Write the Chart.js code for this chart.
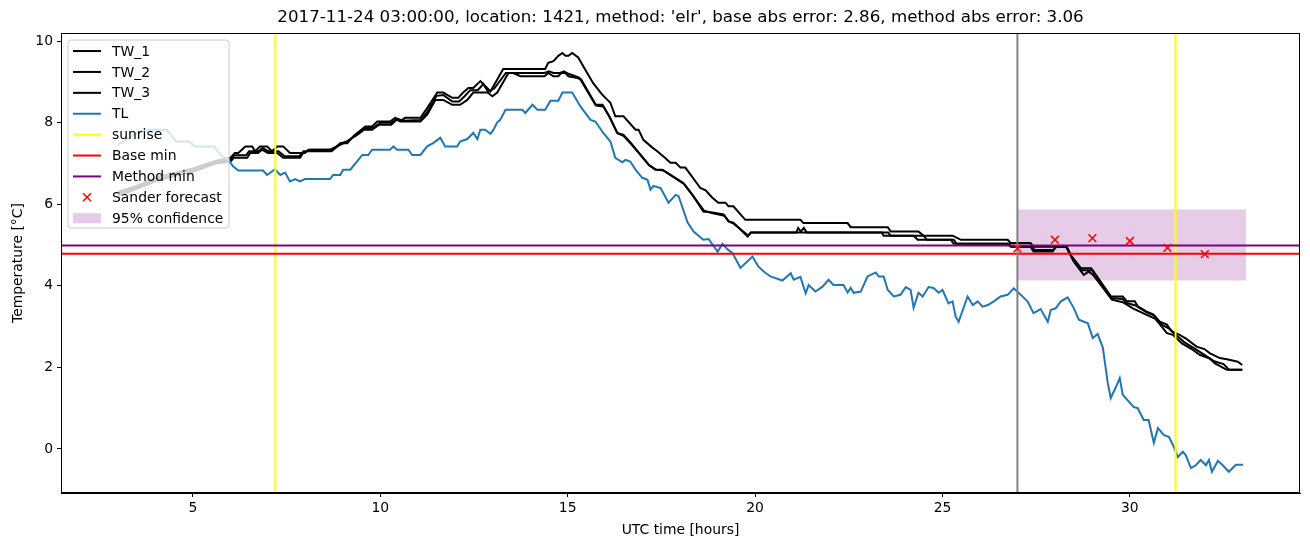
<!DOCTYPE html>
<html>
<head>
<meta charset="utf-8">
<script src="https://cdn.jsdelivr.net/npm/chart.js@4.4.1/dist/chart.umd.min.js"></script>
<style>
  html, body { margin: 0; padding: 0; background: #fff; }
  canvas { display: block; }
</style>
</head>
<body>
<canvas id="chart" width="1310" height="547"></canvas>
<script>
// axis ranges (hours / degC)
const X_MIN = 1.48, X_MAX = 34.54;
const Y_MIN = -1.08, Y_MAX = 10.2;

// [hour, temperature] pairs
const tw1 = [[3.0,6.3],[3.5,6.45],[4.1,6.68],[5.0,6.88],[5.6,7.06],[6.0,7.14],[6.12,7.26],[6.21,7.26],[6.4,7.42],[6.58,7.42],[6.66,7.3],[6.79,7.42],[6.98,7.42],[7.11,7.3],[7.25,7.42],[7.41,7.42],[7.59,7.26],[7.99,7.26],[8.08,7.34],[8.74,7.34],[8.93,7.5],[9.12,7.5],[9.28,7.67],[9.6,7.91],[9.78,7.91],[9.92,8.03],[10.26,8.03],[10.4,8.12],[10.53,8.03],[10.66,8.12],[11.07,8.12],[11.25,8.36],[11.52,8.74],[11.68,8.74],[11.92,8.61],[12.08,8.61],[12.21,8.74],[12.35,8.85],[12.48,8.85],[12.67,9.02],[12.8,8.9],[12.94,8.77],[13.12,9.06],[13.28,9.32],[13.47,9.32],[14.4,9.32],[14.48,9.47],[14.62,9.51],[14.75,9.64],[14.86,9.71],[14.94,9.64],[15.02,9.64],[15.12,9.71],[15.28,9.6],[15.52,9.22],[15.68,8.97],[15.92,8.69],[16.14,8.49],[16.27,8.16],[16.49,8.16],[16.81,7.83],[16.89,7.83],[17.02,7.58],[17.26,7.39],[17.39,7.3],[17.61,7.13],[17.74,7.02],[17.88,7.02],[18.01,6.9],[18.14,6.9],[18.54,6.4],[18.68,6.34],[18.86,6.16],[19.02,6.04],[19.21,6.04],[19.29,5.95],[19.42,5.95],[19.74,5.62],[21.21,5.62],[21.29,5.54],[22.47,5.54],[22.55,5.44],[23.54,5.44],[23.62,5.33],[24.36,5.33],[24.5,5.23],[25.27,5.23],[25.49,5.13],[26.74,5.13],[26.82,5.05],[27.35,5.05],[27.43,4.96],[28.3,4.96],[28.45,4.72],[28.7,4.43],[28.97,4.43],[29.5,3.74],[29.81,3.74],[29.92,3.62],[30.13,3.62],[30.21,3.5],[30.45,3.37],[30.62,3.3],[30.8,3.12],[30.99,3.05],[31.12,2.88],[31.33,2.8],[31.51,2.7],[31.78,2.51],[31.99,2.45],[32.13,2.35],[32.4,2.23],[32.59,2.2],[32.88,2.14],[33.0,2.06]];

const tw2 = [[3.0,6.2],[3.5,6.38],[4.1,6.6],[5.0,6.8],[5.6,7.0],[6.0,7.05],[6.09,7.14],[6.45,7.14],[6.53,7.26],[6.74,7.26],[6.84,7.34],[7.0,7.26],[7.25,7.26],[7.41,7.14],[7.86,7.14],[7.94,7.26],[8.13,7.34],[8.66,7.34],[8.93,7.46],[9.12,7.55],[9.39,7.71],[9.57,7.83],[9.78,7.83],[9.97,7.95],[10.29,7.95],[10.43,8.07],[10.58,8.03],[11.07,8.03],[11.25,8.2],[11.47,8.56],[11.68,8.56],[11.92,8.44],[12.13,8.44],[12.32,8.56],[12.48,8.74],[12.86,8.74],[12.99,8.65],[13.12,8.74],[13.42,9.22],[13.55,9.22],[13.74,9.14],[14.38,9.14],[14.48,9.22],[14.62,9.14],[14.75,9.14],[14.83,9.22],[14.94,9.22],[15.02,9.14],[15.26,9.1],[15.34,9.06],[15.74,8.44],[15.93,8.44],[16.11,8.16],[16.32,7.75],[16.49,7.7],[16.69,7.5],[17.16,6.97],[17.34,6.85],[17.53,6.85],[17.88,6.64],[18.09,6.52],[18.33,6.23],[18.62,5.82],[18.86,5.8],[19.16,5.75],[19.29,5.58],[19.42,5.55],[19.8,5.21],[19.88,5.31],[23.38,5.31],[23.43,5.23],[24.23,5.23],[24.34,5.13],[25.22,5.13],[25.3,5.03],[26.74,5.03],[26.82,4.96],[27.35,4.96],[27.43,4.84],[27.94,4.84],[28.02,4.96],[28.32,4.96],[28.5,4.6],[28.77,4.27],[28.9,4.35],[29.02,4.27],[29.52,3.66],[29.81,3.6],[30.08,3.45],[30.45,3.29],[30.67,3.2],[30.99,2.84],[31.15,2.8],[31.39,2.59],[31.65,2.45],[31.86,2.31],[32.13,2.22],[32.27,2.1],[32.59,1.94],[33.0,1.94]];

const tw3 = [[3.0,6.25],[3.5,6.41],[4.1,6.63],[5.0,6.83],[5.6,7.02],[6.0,7.1],[6.1,7.2],[6.42,7.2],[6.5,7.3],[6.75,7.3],[6.86,7.38],[7.02,7.3],[7.28,7.3],[7.45,7.18],[7.84,7.18],[7.95,7.3],[8.1,7.3],[8.7,7.3],[8.95,7.5],[9.15,7.55],[9.4,7.75],[9.6,7.87],[9.8,7.87],[10.0,8.0],[10.3,8.0],[10.45,8.1],[10.6,8.05],[11.07,8.07],[11.25,8.26],[11.5,8.66],[11.68,8.68],[11.92,8.52],[12.1,8.52],[12.25,8.65],[12.4,8.8],[12.6,8.8],[12.75,8.95],[12.88,8.75],[13.05,8.85],[13.35,9.22],[14.38,9.22],[14.5,9.26],[14.62,9.22],[14.8,9.22],[14.9,9.26],[15.02,9.2],[15.28,9.12],[15.36,9.06],[15.76,8.42],[15.95,8.4],[16.13,8.12],[16.33,7.74],[16.5,7.67],[16.7,7.47],[17.18,6.95],[17.36,6.85],[17.55,6.83],[17.9,6.62],[18.1,6.5],[18.35,6.2],[18.64,5.84],[18.88,5.78],[19.18,5.72],[19.3,5.58],[19.44,5.52],[19.82,5.23],[19.9,5.31],[21.1,5.31],[21.15,5.42],[21.22,5.33],[21.3,5.42],[21.38,5.31],[23.55,5.31],[23.62,5.23],[24.5,5.23],[24.58,5.13],[25.3,5.13],[25.38,5.03],[26.78,5.03],[26.86,4.96],[27.38,4.96],[27.46,4.88],[27.96,4.88],[28.04,4.96],[28.3,4.96],[28.47,4.66],[28.72,4.38],[29.0,4.38],[29.5,3.7],[29.8,3.68],[29.92,3.58],[30.15,3.52],[30.45,3.35],[30.65,3.27],[30.85,3.05],[31.05,2.95],[31.2,2.82],[31.45,2.62],[31.75,2.45],[32.0,2.3],[32.25,2.15],[32.5,2.08],[32.65,1.94],[33.0,1.94]];

const tl = [[3.0,7.46],[3.5,7.75],[3.8,7.83],[4.3,7.83],[4.45,7.66],[4.55,7.54],[4.9,7.54],[5.05,7.42],[5.57,7.42],[5.75,7.2],[5.95,7.09],[6.07,6.93],[6.21,6.83],[6.87,6.83],[6.98,6.72],[7.19,6.86],[7.33,6.72],[7.46,6.78],[7.59,6.56],[7.73,6.62],[7.86,6.56],[7.99,6.62],[8.66,6.62],[8.74,6.72],[8.93,6.72],[9.01,6.85],[9.2,6.85],[9.52,7.21],[9.68,7.21],[9.78,7.34],[10.26,7.34],[10.35,7.42],[10.45,7.34],[10.75,7.34],[10.85,7.21],[11.07,7.21],[11.25,7.42],[11.41,7.5],[11.6,7.63],[11.73,7.42],[12.05,7.42],[12.13,7.54],[12.32,7.6],[12.48,7.75],[12.59,7.6],[12.67,7.83],[12.8,7.83],[12.94,7.73],[13.02,7.83],[13.12,8.01],[13.2,8.07],[13.34,8.32],[13.79,8.32],[13.87,8.24],[14.06,8.44],[14.19,8.32],[14.4,8.32],[14.54,8.54],[14.75,8.54],[14.86,8.74],[15.12,8.74],[15.34,8.4],[15.61,8.07],[15.74,8.03],[15.95,7.75],[16.14,7.54],[16.27,7.14],[16.46,7.03],[16.54,7.09],[16.67,7.05],[16.81,6.85],[16.99,6.65],[17.13,6.6],[17.21,6.36],[17.29,6.45],[17.48,6.4],[17.69,6.04],[17.88,6.23],[17.96,6.2],[18.2,5.55],[18.36,5.33],[18.62,5.13],[18.76,5.15],[19.0,4.84],[19.13,5.03],[19.26,4.9],[19.4,4.8],[19.61,4.44],[19.93,4.72],[20.09,4.47],[20.23,4.35],[20.41,4.23],[20.73,4.13],[20.95,4.31],[21.03,4.15],[21.21,4.22],[21.35,3.82],[21.43,4.02],[21.61,3.86],[21.8,3.98],[21.96,4.15],[22.09,4.02],[22.36,4.02],[22.47,3.84],[22.55,3.95],[22.63,3.83],[22.82,3.86],[23.0,4.23],[23.22,4.33],[23.3,4.23],[23.43,4.23],[23.54,3.9],[23.7,3.74],[23.88,3.78],[24.02,3.97],[24.15,3.9],[24.23,3.46],[24.36,3.83],[24.47,3.74],[24.63,3.97],[24.76,3.95],[24.9,3.83],[25.0,3.9],[25.16,3.57],[25.27,3.62],[25.35,3.25],[25.43,3.12],[25.67,3.74],[25.81,3.53],[25.94,3.62],[26.07,3.49],[26.21,3.53],[26.37,3.62],[26.55,3.74],[26.74,3.78],[26.9,3.94],[27.03,3.83],[27.27,3.62],[27.43,3.33],[27.62,3.43],[27.81,3.12],[27.89,3.41],[28.02,3.45],[28.16,3.62],[28.34,3.72],[28.5,3.46],[28.64,3.17],[28.88,3.08],[29.01,2.72],[29.14,2.82],[29.28,2.48],[29.41,1.62],[29.49,1.25],[29.62,1.5],[29.73,1.74],[29.81,1.33],[30.1,1.03],[30.21,1.0],[30.37,0.71],[30.5,0.71],[30.64,0.15],[30.75,0.51],[30.91,0.34],[31.04,0.3],[31.17,0.06],[31.28,-0.2],[31.41,-0.07],[31.49,-0.15],[31.63,-0.47],[31.76,-0.4],[31.89,-0.27],[32.03,-0.4],[32.11,-0.27],[32.19,-0.56],[32.35,-0.29],[32.48,-0.4],[32.64,-0.56],[32.83,-0.39],[33.02,-0.39]];

const sunriseHours = [7.2, 31.22];
const forecastTime = 27.0;
const baseMin = 4.79;
const methodMin = 4.99;
const forecastHours = [27, 28, 29, 30, 31, 32];
const forecastTemp = [4.92, 5.13, 5.17, 5.10, 4.93, 4.78];
const bandHours = [27.0, 33.1];
const bandLower = [4.13, 4.13];
const bandUpper = [5.87, 5.87];

const FONT = '"DejaVu Sans", sans-serif';
const pts = arr => arr.map(([x, y]) => ({ x, y }));
const vline = h => [{ x: h, y: Y_MIN }, { x: h, y: Y_MAX }];
const hline = v => [{ x: X_MIN, y: v }, { x: X_MAX, y: v }];

const lineDs = (label, data, color, order) => ({
  label, data, borderColor: color, borderWidth: 2, pointRadius: 0,
  fill: false, tension: 0, order
});

const datasets = [
  lineDs('TW_1', pts(tw1), '#000000', 10),
  lineDs('TW_2', pts(tw2), '#000000', 9),
  lineDs('TW_3', pts(tw3), '#000000', 8),
  lineDs('TL', pts(tl), '#1f77b4', 7),
  ...sunriseHours.map(h => lineDs('sunrise', vline(h), '#ffff00', 6)),
  lineDs('Base min', hline(baseMin), '#ff0000', 5),
  lineDs('Method min', hline(methodMin), '#800080', 4),
  lineDs('', vline(forecastTime), '#808080', 3),
  {
    label: 'Sander forecast',
    data: forecastHours.map((h, i) => ({ x: h, y: forecastTemp[i] })),
    showLine: false, pointStyle: 'crossRot', pointRadius: 5.5,
    borderColor: '#ff0000', backgroundColor: '#ff0000', borderWidth: 1.5, order: 1
  },
  {
    label: '95% confidence',
    data: bandHours.map((h, i) => ({ x: h, y: bandUpper[i] })),
    borderColor: 'transparent', borderWidth: 0, pointRadius: 0,
    fill: '+1', backgroundColor: 'rgba(128,0,128,0.2)', order: 20
  },
  {
    label: '',
    data: bandHours.map((h, i) => ({ x: h, y: bandLower[i] })),
    borderColor: 'transparent', borderWidth: 0, pointRadius: 0,
    fill: false, order: 21
  }
];

// legend drawn inside the axes, matplotlib style
const legendItems = [
  { label: 'TW_1', kind: 'line', color: '#000000' },
  { label: 'TW_2', kind: 'line', color: '#000000' },
  { label: 'TW_3', kind: 'line', color: '#000000' },
  { label: 'TL', kind: 'line', color: '#1f77b4' },
  { label: 'sunrise', kind: 'line', color: '#ffff00' },
  { label: 'Base min', kind: 'line', color: '#ff0000' },
  { label: 'Method min', kind: 'line', color: '#800080' },
  { label: 'Sander forecast', kind: 'x', color: '#ff0000' },
  { label: '95% confidence', kind: 'patch', color: 'rgba(128,0,128,0.2)' }
];

const framePlugin = {
  id: 'frame',
  afterDatasetsDraw(chart) {
    const { ctx, chartArea: a } = chart;
    ctx.save();
    ctx.strokeStyle = '#000';
    ctx.lineWidth = 1;
    ctx.strokeRect(Math.round(a.left) + 0.5, Math.round(a.top) + 0.5,
      Math.round(a.right - a.left) - 1, Math.round(a.bottom - a.top) - 1);
    ctx.restore();
  },
  afterDraw(chart) {
    const { ctx, chartArea: a } = chart;
    const x0 = a.left + 7, y0 = a.top + 7, w = 161, h = 188, r = 3;
    ctx.save();
    ctx.beginPath();
    ctx.moveTo(x0 + r, y0);
    ctx.arcTo(x0 + w, y0, x0 + w, y0 + h, r);
    ctx.arcTo(x0 + w, y0 + h, x0, y0 + h, r);
    ctx.arcTo(x0, y0 + h, x0, y0, r);
    ctx.arcTo(x0, y0, x0 + w, y0, r);
    ctx.closePath();
    ctx.fillStyle = 'rgba(255,255,255,0.8)';
    ctx.fill();
    ctx.strokeStyle = '#cccccc';
    ctx.lineWidth = 1;
    ctx.stroke();

    ctx.font = '13.9px ' + FONT;
    ctx.textBaseline = 'middle';
    ctx.textAlign = 'left';
    legendItems.forEach((it, i) => {
      const y = y0 + 11 + i * 20.9;
      const hx = x0 + 5;
      if (it.kind === 'line') {
        ctx.strokeStyle = it.color;
        ctx.lineWidth = 2;
        ctx.beginPath();
        ctx.moveTo(hx, y);
        ctx.lineTo(hx + 28, y);
        ctx.stroke();
      } else if (it.kind === 'x') {
        ctx.strokeStyle = it.color;
        ctx.lineWidth = 1.5;
        const cx = hx + 14, s = 4;
        ctx.beginPath();
        ctx.moveTo(cx - s, y - s); ctx.lineTo(cx + s, y + s);
        ctx.moveTo(cx - s, y + s); ctx.lineTo(cx + s, y - s);
        ctx.stroke();
      } else {
        ctx.fillStyle = it.color;
        ctx.fillRect(hx, y - 5, 28, 10);
      }
      ctx.fillStyle = '#000';
      ctx.fillText(it.label, x0 + 44, y + 1);
    });
    ctx.restore();
  }
};

const tickFont = { family: FONT, size: 13.9 };

new Chart(document.getElementById('chart'), {
  type: 'line',
  data: { datasets },
  plugins: [framePlugin],
  options: {
    responsive: false,
    devicePixelRatio: 1,
    animation: false,
    layout: { padding: { left: 0, right: 10, top: 0, bottom: 0 } },
    plugins: {
      legend: { display: false },
      tooltip: { enabled: false },
      title: {
        display: true,
        fullSize: false,
        text: "2017-11-24 03:00:00, location: 1421, method: 'elr', base abs error: 2.86, method abs error: 3.06",
        color: '#000',
        font: { family: FONT, size: 16.7, weight: 'normal' },
        padding: { top: 8, bottom: 5 }
      }
    },
    scales: {
      x: {
        type: 'linear',
        min: X_MIN, max: X_MAX,
        ticks: { stepSize: 5, includeBounds: false, color: '#000', font: tickFont, padding: 3, maxRotation: 0 },
        grid: { drawOnChartArea: false, tickLength: 4, tickColor: '#000' },
        border: { color: '#000', width: 1 },
        title: { display: true, text: 'UTC time [hours]', color: '#000', font: tickFont, padding: { top: 0, bottom: 8 } },
        afterFit(scale) { scale.height = 54; }
      },
      y: {
        type: 'linear',
        min: Y_MIN, max: Y_MAX,
        ticks: { stepSize: 2, includeBounds: false, color: '#000', font: tickFont, padding: 4 },
        grid: { drawOnChartArea: false, tickLength: 4, tickColor: '#000' },
        border: { color: '#000', width: 1 },
        title: { display: true, text: 'Temperature [°C]', color: '#000', font: tickFont, padding: { top: 10, bottom: 0 } },
        afterFit(scale) { scale.width = 61; }
      }
    }
  }
});
</script>
</body>
</html>
